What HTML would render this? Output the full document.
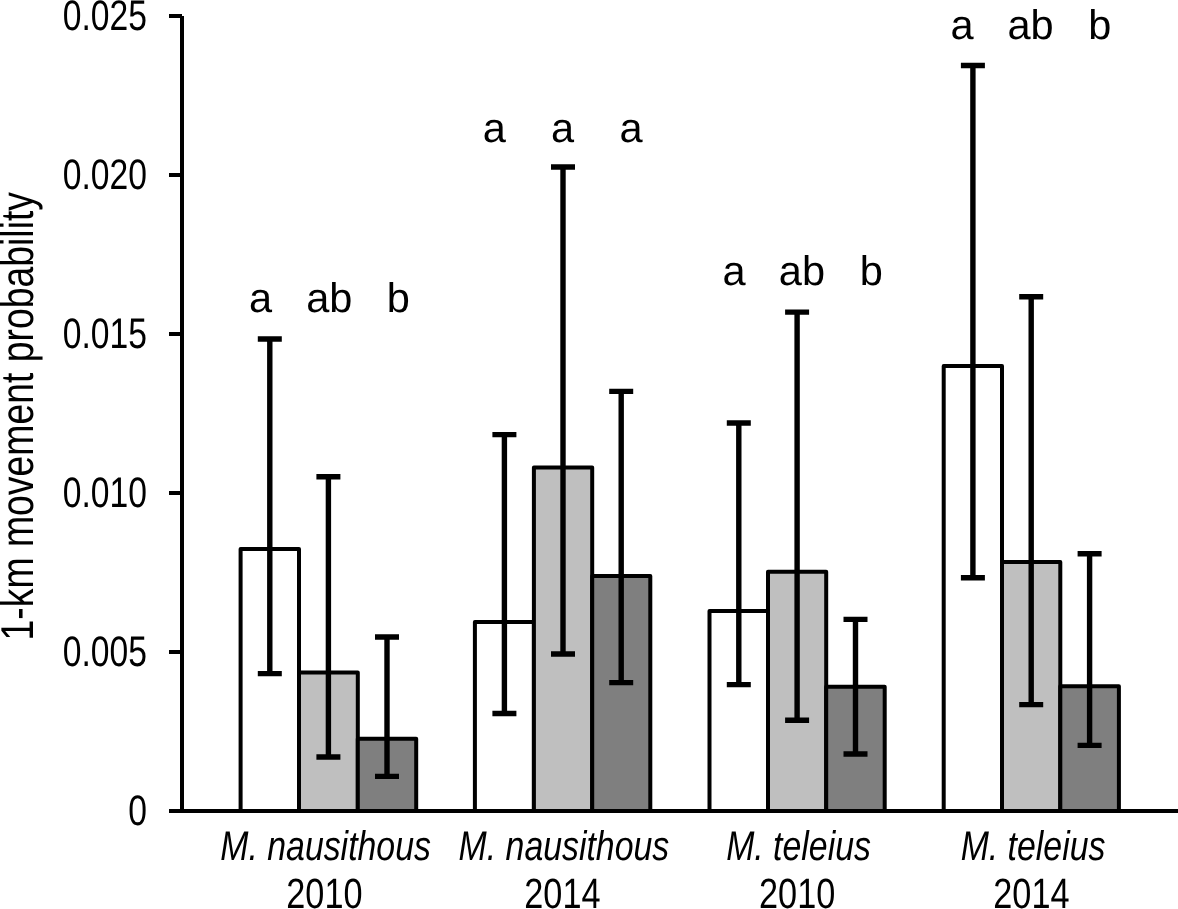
<!DOCTYPE html><html><head><meta charset="utf-8"><title>1-km movement probability</title><style>
html,body{margin:0;padding:0;background:#fff;}body{width:1178px;height:909px;overflow:hidden;}
svg{display:block;text-rendering:geometricPrecision;}text{font-family:"Liberation Sans",Arial,sans-serif;fill:#000;}
.it{font-style:italic;}
</style></head><body>
<svg width="1178" height="909" viewBox="0 0 1178 909">
<rect x="0" y="0" width="1178" height="909" fill="#fff"/>
<rect x="240.6" y="549.0" width="58.4" height="262.0" fill="#ffffff" stroke="#000" stroke-width="4.0" stroke-linejoin="round"/>
<rect x="299.0" y="672.5" width="58.8" height="138.5" fill="#bfbfbf" stroke="#000" stroke-width="4.0" stroke-linejoin="round"/>
<rect x="357.8" y="738.7" width="58.4" height="72.3" fill="#7f7f7f" stroke="#000" stroke-width="4.0" stroke-linejoin="round"/>
<rect x="474.9" y="622.1" width="59.0" height="188.9" fill="#ffffff" stroke="#000" stroke-width="4.0" stroke-linejoin="round"/>
<rect x="533.9" y="467.5" width="58.3" height="343.5" fill="#bfbfbf" stroke="#000" stroke-width="4.0" stroke-linejoin="round"/>
<rect x="592.2" y="575.9" width="58.1" height="235.1" fill="#7f7f7f" stroke="#000" stroke-width="4.0" stroke-linejoin="round"/>
<rect x="709.5" y="611.1" width="58.5" height="199.9" fill="#ffffff" stroke="#000" stroke-width="4.0" stroke-linejoin="round"/>
<rect x="768.0" y="571.7" width="58.2" height="239.3" fill="#bfbfbf" stroke="#000" stroke-width="4.0" stroke-linejoin="round"/>
<rect x="826.2" y="686.8" width="58.5" height="124.2" fill="#7f7f7f" stroke="#000" stroke-width="4.0" stroke-linejoin="round"/>
<rect x="943.7" y="365.9" width="58.3" height="445.1" fill="#ffffff" stroke="#000" stroke-width="4.0" stroke-linejoin="round"/>
<rect x="1002.0" y="562.0" width="58.3" height="249.0" fill="#bfbfbf" stroke="#000" stroke-width="4.0" stroke-linejoin="round"/>
<rect x="1060.3" y="686.2" width="58.6" height="124.8" fill="#7f7f7f" stroke="#000" stroke-width="4.0" stroke-linejoin="round"/>
<path d="M269.8 339.0V673.6M257.8 339.0H281.8M257.8 673.6H281.8" stroke="#000" stroke-width="5.4" fill="none"/>
<path d="M328.4 476.7V757.0M316.4 476.7H340.4M316.4 757.0H340.4" stroke="#000" stroke-width="5.4" fill="none"/>
<path d="M387.0 637.0V776.4M375.0 637.0H399.0M375.0 776.4H399.0" stroke="#000" stroke-width="5.4" fill="none"/>
<path d="M504.4 434.6V713.5M492.4 434.6H516.4M492.4 713.5H516.4" stroke="#000" stroke-width="5.4" fill="none"/>
<path d="M563.0 167.0V654.0M551.0 167.0H575.0M551.0 654.0H575.0" stroke="#000" stroke-width="5.4" fill="none"/>
<path d="M621.2 391.4V682.6M609.2 391.4H633.2M609.2 682.6H633.2" stroke="#000" stroke-width="5.4" fill="none"/>
<path d="M738.8 423.0V684.6M726.8 423.0H750.8M726.8 684.6H750.8" stroke="#000" stroke-width="5.4" fill="none"/>
<path d="M797.1 312.1V720.2M785.1 312.1H809.1M785.1 720.2H809.1" stroke="#000" stroke-width="5.4" fill="none"/>
<path d="M855.5 619.4V754.0M843.5 619.4H867.5M843.5 754.0H867.5" stroke="#000" stroke-width="5.4" fill="none"/>
<path d="M972.9 65.5V577.8M960.9 65.5H984.9M960.9 577.8H984.9" stroke="#000" stroke-width="5.4" fill="none"/>
<path d="M1031.2 296.7V704.6M1019.2 296.7H1043.2M1019.2 704.6H1043.2" stroke="#000" stroke-width="5.4" fill="none"/>
<path d="M1089.6 553.7V745.4M1077.6 553.7H1101.6M1077.6 745.4H1101.6" stroke="#000" stroke-width="5.4" fill="none"/>
<path d="M182.0 16V813M169 811.0H1178" stroke="#000" stroke-width="4.0" fill="none"/>
<path d="M169 811.0H182.0M169 652.0H182.0M169 493.0H182.0M169 334.0H182.0M169 175.0H182.0M169 16.0H182.0" stroke="#000" stroke-width="4.0" fill="none"/>
<g>
<text transform="translate(146.95,824.80) scale(0.786,1)" text-anchor="end" font-size="42.8">0</text>
<text transform="translate(146.95,665.80) scale(0.786,1)" text-anchor="end" font-size="42.8">0.005</text>
<text transform="translate(146.95,506.80) scale(0.786,1)" text-anchor="end" font-size="42.8">0.010</text>
<text transform="translate(146.95,347.80) scale(0.786,1)" text-anchor="end" font-size="42.8">0.015</text>
<text transform="translate(146.95,188.80) scale(0.786,1)" text-anchor="end" font-size="42.8">0.020</text>
<text transform="translate(146.95,29.80) scale(0.786,1)" text-anchor="end" font-size="42.8">0.025</text>
</g>
<text x="249.0" y="311.5" font-size="41.5">a</text>
<text x="306.2" y="311.5" font-size="41.5">ab</text>
<text x="386.8" y="311.5" font-size="41.5">b</text>
<text x="482.8" y="141.5" font-size="41.5">a</text>
<text x="551.1" y="141.5" font-size="41.5">a</text>
<text x="619.6" y="141.5" font-size="41.5">a</text>
<text x="722.4" y="285.3" font-size="41.5">a</text>
<text x="778.8" y="285.3" font-size="41.5">ab</text>
<text x="859.7" y="285.3" font-size="41.5">b</text>
<text x="950.6" y="39.2" font-size="41.5">a</text>
<text x="1007.4" y="39.2" font-size="41.5">ab</text>
<text x="1088.2" y="39.2" font-size="41.5">b</text>
<text class="it" transform="translate(325.6,860) scale(0.815,1)" text-anchor="middle" font-size="41.5">M. nausithous</text>
<text transform="translate(324.4,907.6) scale(0.809,1)" text-anchor="middle" font-size="42.4">2010</text>
<text class="it" transform="translate(563.9,860) scale(0.815,1)" text-anchor="middle" font-size="41.5">M. nausithous</text>
<text transform="translate(562.4,907.6) scale(0.809,1)" text-anchor="middle" font-size="42.4">2014</text>
<text class="it" transform="translate(798.5,860) scale(0.815,1)" text-anchor="middle" font-size="41.5">M. teleius</text>
<text transform="translate(797.2,907.6) scale(0.809,1)" text-anchor="middle" font-size="42.4">2010</text>
<text class="it" transform="translate(1033.0,860) scale(0.815,1)" text-anchor="middle" font-size="41.5">M. teleius</text>
<text transform="translate(1031.4,907.6) scale(0.809,1)" text-anchor="middle" font-size="42.4">2014</text>
<g><text transform="translate(33,640.4) rotate(-90) scale(0.812,1)" text-anchor="start" font-size="46">1-km movement probability</text></g>
</svg></body></html>
